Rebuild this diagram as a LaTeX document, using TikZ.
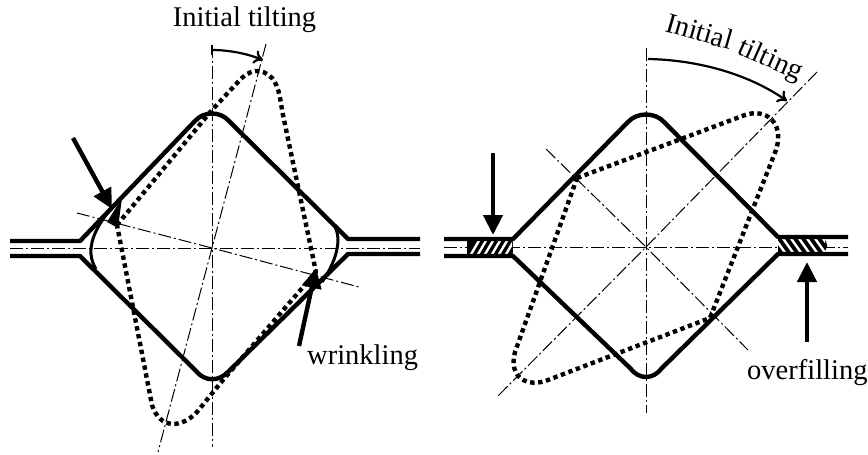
\documentclass[tikz,border=0pt]{standalone}
\usepackage{fontspec}
\setmainfont{Liberation Serif}
\usetikzlibrary{arrows.meta}
\tikzset{
  outline/.style={line width=4.4pt,line join=round,black},
  wrinkle/.style={line width=3pt,black},
  tilted/.style={line width=4.4pt,dash pattern=on 4.4pt off 3.6pt,line join=round,black},
  axis/.style={line width=1pt,dash pattern=on 13pt off 3pt on 2pt off 3pt,black},
  bigarrow/.style={line width=4.4pt,-{Triangle[width=19pt,length=20pt]},black},
  tiltarrow/.style={line width=2.2pt,-{To[length=9pt,width=14pt,line width=2.2pt]},black},
  label/.style={font=\fontsize{28.5}{30}\selectfont,inner sep=0pt,black},
}
\begin{document}
\begin{tikzpicture}[x=1pt,y=-1pt]
\useasboundingbox (0,0) rectangle (868,455);
% ---------- left figure
\coordinate (lc) at (212,248);
\draw[axis] (212,45) -- (212,447);
\draw[axis] (10,248) -- (420,248);
\draw[axis] (266,44) -- (lc) -- (158,452);
\draw[axis] (77,213) -- (lc) -- (359,287);
\draw[tilted] (117,225) -- (212,110) -- (238,82) .. controls (250,68) and (262,68) .. (272,78)
  .. controls (280,88) and (280,100) .. (283,115) -- (316,272) -- (223,380) -- (197,412)
  .. controls (182,428) and (160,430) .. (152,405) -- cycle;
\draw[outline] (10,241) -- (80,241) -- (195,121) .. controls (204,111) and (220,111) .. (229,121)
  -- (348,239) -- (420,239);
\draw[outline] (10,256) -- (80,256) -- (196,371) .. controls (205,382) and (219,382) .. (229,371)
  -- (348,254) -- (420,254);
\draw[wrinkle] (118,201) .. controls (94,226) and (84,250) .. (96,269);
\draw[wrinkle] (335,227) .. controls (342,240) and (336,262) .. (322,282);
\coordinate (la1) at (73,138); \coordinate (la2) at (112,209);
\draw[bigarrow] (la1) -- (la2);
\coordinate (ra1) at (299,346); \coordinate (ra2) at (316,268);
\draw[bigarrow] (ra1) -- (ra2);
\fill (122,198) -- (118,228) -- (107,222) -- cycle;
\draw[line width=1.4pt] (212,45) -- (212,55);
\coordinate (lt1) at (212,50); \coordinate (lt2) at (263,60);
\draw[tiltarrow] (lt1) .. controls (230,50) and (248,54) .. (lt2);
\node[label] (ltext) at (244.5,20) {Initial tilting};
\node[label,anchor=base west] (wtext) at (307,364) {wrinkling};
% ---------- right figure
\coordinate (rc) at (646,247);
\draw[axis] (646,48) -- (646,413);
\draw[axis] (444,247) -- (848,247);
\draw[axis] (817,72) -- (rc) -- (497,397);
\draw[axis] (546,149) -- (rc) -- (748,350);
\draw[tilted] (577,178) -- (745,115) .. controls (765,108) and (785,122) .. (776,150)
  -- (710,318) -- (548,380) .. controls (528,388) and (508,378) .. (515,352) -- cycle;
\fill (467,239) rectangle (513,256);
\fill (778,237) -- (822,237) .. controls (829,243) and (829,248) .. (822,254) -- (778,254) -- cycle;
\begin{scope}
  \clip (469,241) rectangle (512,254);
  \foreach \i in {0,...,6} \draw[white,line width=2.4pt] (470+\i*7,256) -- (480+\i*7,239);
\end{scope}
\begin{scope}
  \clip (778,239.5) rectangle (825,252);
  \foreach \i in {0,...,6} \draw[white,line width=2.4pt] (774+\i*8,237) -- (786+\i*8,254);
\end{scope}
\draw[outline] (444,239) -- (513,239) -- (628,122) .. controls (637,112) and (655,112) .. (664,122)
  -- (778,237) -- (848,237);
\draw[outline] (444,256) -- (513,256) -- (630,368) .. controls (639,380) and (653,380) .. (662,368)
  -- (778,254) -- (848,254);
\coordinate (da1) at (493,153); \coordinate (da2) at (493,235);
\draw[bigarrow] (da1) -- (da2);
\coordinate (ua1) at (807,342); \coordinate (ua2) at (807,262);
\draw[bigarrow] (ua1) -- (ua2);
\coordinate (rt1) at (648,59); \coordinate (rt2) at (787,101);
\draw[tiltarrow] (rt1) .. controls (700,60) and (750,75) .. (rt2);
\node[label,anchor=base west,rotate=-16] (rtext1) at (664,31) {Initial};
\node[label,anchor=base west,rotate=-24] (rtext2) at (736,53) {tilting};
\node[label,anchor=base west] (otext) at (747,379) {overfilling};
\end{tikzpicture}
\end{document}
